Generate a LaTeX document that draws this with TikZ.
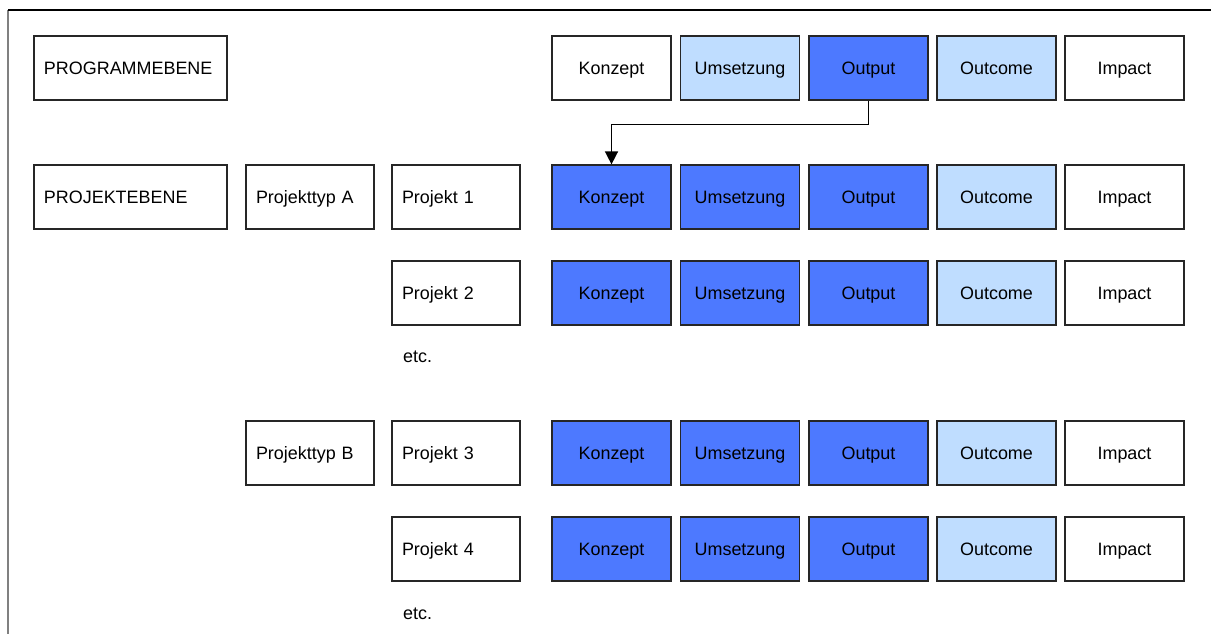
\documentclass[tikz,border=0pt]{standalone}
\usepackage{fontspec}
\setmainfont{Liberation Sans}
\usetikzlibrary{arrows.meta}

\definecolor{darkblue}{RGB}{77,121,255}
\definecolor{lightblue}{RGB}{191,221,255}

\begin{document}
\begin{tikzpicture}[x=1bp, y=-1bp, > = {Triangle[length=13bp, width=13bp]},
    stage/.style = {draw=black!85, line width=1.2bp, minimum width=119bp, minimum height=64bp, inner sep=0pt, text height=13bp, text depth=0pt, font=\fontsize{18}{21}\selectfont},
    level/.style = {stage, text width=#1, inner xsep=10bp, align=left},
    dark/.style = {stage, fill=darkblue},
    light/.style = {stage, fill=lightblue},
    link/.style = {line width=1.5bp, ->}]

    \useasboundingbox (0,0) rectangle (1211,634);

    % frame
    \draw[black!50, line width=1.2bp] (8,634) -- (8,10);
    \draw[line width=1.2bp] (8,10) -- (1211,10);

    % programme level
    \node[level=173bp] (prog) at (130.5,68) {PROGRAMMEBENE};
    \node[stage] (kon0) at (611.5,68) {Konzept};
    \node[light] (ums0) at (740,68) {Umsetzung};
    \node[dark]  (out0) at (868.5,68) {Output};
    \node[light] (oc0)  at (996.5,68) {Outcome};
    \node[stage] (imp0) at (1124.5,68) {Impact};

    % project level, type A
    \node[level=173bp] (proj) at (130.5,197) {PROJEKTEBENE};
    \node[level=108bp] (typa) at (310,197) {Projekttyp A};
    \node[level=108bp] (p1) at (456,197) {Projekt 1};
    \node[dark]  (kon1) at (611.5,197) {Konzept};
    \node[dark]  (ums1) at (740,197) {Umsetzung};
    \node[dark]  (out1) at (868.5,197) {Output};
    \node[light] (oc1)  at (996.5,197) {Outcome};
    \node[stage] (imp1) at (1124.5,197) {Impact};

    \node[level=108bp] (p2) at (456,293) {Projekt 2};
    \node[dark]  (kon2) at (611.5,293) {Konzept};
    \node[dark]  (ums2) at (740,293) {Umsetzung};
    \node[dark]  (out2) at (868.5,293) {Output};
    \node[light] (oc2)  at (996.5,293) {Outcome};
    \node[stage] (imp2) at (1124.5,293) {Impact};

    \node[anchor=base west, inner sep=0pt, font=\fontsize{18}{21}\selectfont] (etca) at (403,363) {etc.};

    % project level, type B
    \node[level=108bp] (typb) at (310,453) {Projekttyp B};
    \node[level=108bp] (p3) at (456,453) {Projekt 3};
    \node[dark]  (kon3) at (611.5,453) {Konzept};
    \node[dark]  (ums3) at (740,453) {Umsetzung};
    \node[dark]  (out3) at (868.5,453) {Output};
    \node[light] (oc3)  at (996.5,453) {Outcome};
    \node[stage] (imp3) at (1124.5,453) {Impact};

    \node[level=108bp] (p4) at (456,549) {Projekt 4};
    \node[dark]  (kon4) at (611.5,549) {Konzept};
    \node[dark]  (ums4) at (740,549) {Umsetzung};
    \node[dark]  (out4) at (868.5,549) {Output};
    \node[light] (oc4)  at (996.5,549) {Outcome};
    \node[stage] (imp4) at (1124.5,549) {Impact};

    \node[anchor=base west, inner sep=0pt, font=\fontsize{18}{21}\selectfont] (etcb) at (403,619) {etc.};

    % programme output feeds project concept
    \draw[link] (out0.south) -- ++(0,24) -| (kon1.north);

\end{tikzpicture}
\end{document}
